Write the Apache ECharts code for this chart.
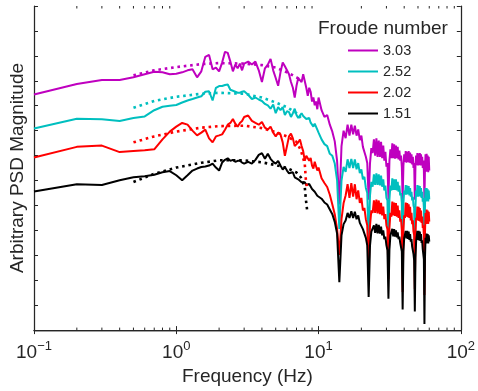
<!DOCTYPE html>
<html>
<head>
<meta charset="utf-8">
<script src="https://cdn.jsdelivr.net/npm/echarts@6/dist/echarts.min.js"></script>
<style>html,body{margin:0;padding:0;background:#fff}#c{width:478px;height:391px}</style>
</head>
<body>
<div id="c"></div>
<script>
// ---------------- data ----------------
const froudeNumbers = ['3.03', '2.52', '2.02', '1.51'];
const seriesColors = ['#bf00bf', '#00bfbf', '#ff0000', '#000000'];

const freqLow = [0.1,0.2,0.3,0.4,0.5,0.6,0.7,0.8,0.9,1.0,
  1.1,1.2,1.3,1.4,1.5,1.6,1.7,1.8,1.9,2.0,
  2.1,2.2,2.3,2.4,2.5,2.6,2.7,2.8,2.9,3.0];
const freqMid = [3.2,3.4,3.6,3.8,4.0,4.2,4.4,4.6,4.8,5.0,
  5.2,5.4,5.6,5.8,6.0,6.2,6.4,6.6,6.8,7.0,
  7.2,7.4,7.6,7.8,8.0,8.2,8.4,8.6,8.8,9.0,
  9.2,9.4,9.6,9.8,10.0];
const freqHigh = [10.5,11,11.5,12,12.5,13,13.5,14,14.5,15,
  15.5,16,16.5,17,17.5,18,18.5,19,19.5,20,
  20.5,21,21.5,22,22.5,23,23.5,24,24.5,25,
  25.5,26,26.5,27,27.5,28,28.5,29,29.5,30,
  30.5,31,31.5,32,32.5,33,33.5,34,34.5,35,
  35.5,36,36.5,37,37.5,38,38.5,39,39.5,40,
  40.5,41,41.5,42,42.5,43,43.5,44,44.5,45,
  45.5,46,46.5,47,47.5,48,48.5,49,49.5,50,
  50.5,51,51.5,52,52.5,53,53.5,54,54.5,55,
  55.5,56,56.5,57,57.5,58,58.5,59,59.5,60];

const psd303 = [
  9.45,9.87,10.03,10.03,10.14,10.26,10.36,10.34,10.26,10.28,
  10.34,10.42,10.46,10.14,10.38,10.96,11.04,10.46,10.53,10.38,
  10.73,11.16,11.12,10.77,10.38,10.65,10.50,10.69,10.42,10.69,
  10.77,10.65,10.77,10.42,9.95,10.50,10.65,10.88,10.42,10.11,
  9.80,10.34,10.73,10.58,10.42,10.26,9.95,9.72,9.33,9.80,
  10.11,10.18,9.95,10.26,10.30,9.72,9.40,9.72,9.56,9.17,
  9.33,9.02,9.17,8.86,9.33,
  8.82,8.55,8.63,8.24,7.96,7.57,6.79,5.04,7.38,8.00,
  7.70,8.24,7.80,8.24,7.85,8.20,7.80,8.05,7.62,7.80,
  7.35,7.40,6.95,6.70,5.23,6.70,7.30,7.10,7.65,7.00,
  7.69,6.95,7.60,6.95,7.55,6.90,7.40,6.80,7.15,6.55,
  6.70,5.23,6.80,7.25,6.90,7.49,6.90,7.45,6.88,7.40,
  6.90,7.35,6.85,7.20,6.80,7.00,6.55,5.23,6.60,7.05,
  6.75,7.18,6.72,7.15,6.75,7.18,6.72,7.12,6.70,7.05,
  6.65,6.95,6.50,6.70,5.23,6.60,7.00,6.62,7.10,6.60,
  7.08,6.62,7.10,6.60,7.05,6.60,6.95,6.50,6.80,6.40,
  5.23,6.50,7.05,6.35,7.07,6.40,7.00,6.33,6.95,6.40];

const psd252 = [
  8.09,8.48,8.46,8.39,8.51,8.57,8.82,8.96,9.00,9.03,
  9.13,9.21,9.27,9.33,9.38,9.56,9.58,9.21,9.72,9.79,
  9.79,9.83,9.85,9.64,9.60,9.56,9.52,9.52,9.56,9.58,
  9.44,9.27,9.33,9.25,9.19,9.07,9.01,8.88,9.05,8.70,
  8.94,8.82,8.94,8.63,8.78,8.74,8.55,8.70,8.88,8.63,
  8.51,8.49,8.70,8.59,8.67,8.47,8.39,8.51,8.32,8.39,
  8.16,8.28,8.28,8.04,7.92,
  7.65,7.46,7.38,7.07,6.99,6.68,6.01,4.06,6.00,6.55,
  6.35,6.85,6.50,6.87,6.50,6.85,6.45,6.70,6.30,6.45,
  6.05,6.15,5.70,5.50,3.48,5.40,5.95,5.75,6.25,5.82,
  6.29,5.82,6.25,5.80,6.20,5.75,6.05,5.60,5.80,5.30,
  5.20,2.97,5.25,5.80,5.60,6.09,5.62,6.05,5.62,6.05,
  5.60,5.95,5.55,5.80,5.40,5.50,5.10,2.39,5.10,5.60,
  5.43,5.82,5.43,5.80,5.45,5.78,5.40,5.70,5.35,5.55,
  5.20,5.35,5.00,4.90,2.70,4.95,5.60,5.35,5.82,5.35,
  5.80,5.38,5.78,5.35,5.70,5.30,5.55,5.15,5.30,4.90,
  2.39,5.00,5.70,5.16,5.70,5.20,5.65,5.16,5.60,5.25];

const psd202 = [
  6.92,7.35,7.40,7.14,7.18,7.21,7.25,7.65,7.96,8.16,
  8.31,8.24,8.00,7.81,7.92,8.04,7.69,7.53,7.77,7.81,
  7.85,8.04,8.24,8.31,8.47,8.28,8.16,8.31,8.39,8.55,
  8.61,8.39,8.31,8.24,8.35,8.12,8.04,8.16,7.92,7.77,
  7.92,7.85,7.53,6.99,7.38,7.77,7.88,7.69,7.38,7.30,
  7.53,7.65,7.38,7.18,6.79,6.99,7.06,6.79,6.91,6.60,
  6.48,6.75,6.79,6.40,6.52,
  6.09,5.90,5.74,5.43,5.04,4.65,4.06,3.01,4.45,5.10,
  5.40,5.85,5.30,5.90,5.35,5.85,5.25,5.60,5.10,5.30,
  4.80,4.90,4.45,4.20,2.31,4.20,4.80,4.70,5.20,4.70,
  5.23,4.68,5.20,4.65,5.10,4.60,4.95,4.45,4.65,4.20,
  4.05,2.04,4.10,4.70,4.55,5.16,4.60,5.12,4.58,5.10,
  4.55,5.00,4.50,4.80,4.35,4.45,4.00,1.53,4.00,4.60,
  4.50,5.12,4.55,5.10,4.53,5.05,4.50,4.95,4.40,4.70,
  4.25,4.40,3.95,3.80,1.65,3.85,4.50,4.40,4.96,4.40,
  4.95,4.38,4.90,4.35,4.80,4.30,4.55,4.10,4.20,3.80,
  1.41,3.90,4.70,4.26,4.84,4.28,4.80,4.26,4.75,4.35];

const psd151 = [
  5.56,5.85,5.82,6.01,6.13,6.17,6.23,6.33,6.38,6.21,
  6.01,6.21,6.40,6.48,6.54,6.56,6.60,6.68,6.52,6.40,
  6.72,6.83,6.89,6.79,6.83,6.75,6.79,6.79,6.72,6.68,
  6.75,6.68,6.83,7.03,7.10,6.87,7.07,6.87,6.75,6.68,
  6.79,6.60,6.44,6.54,6.40,6.29,6.33,6.33,6.13,6.21,
  6.05,5.97,5.93,6.01,5.93,5.82,5.76,5.86,5.82,5.66,
  5.70,5.55,5.58,5.39,5.43,
  5.27,5.12,5.04,4.84,4.65,4.34,3.87,1.92,3.80,4.25,
  4.40,4.70,4.50,4.77,4.50,4.75,4.45,4.60,4.30,4.35,
  4.05,4.00,3.70,3.40,1.33,3.40,3.95,3.90,4.20,3.90,
  4.26,3.88,4.22,3.87,4.15,3.80,4.00,3.65,3.75,3.40,
  3.20,1.26,3.25,3.80,3.75,4.06,3.76,4.05,3.75,4.00,
  3.72,3.92,3.65,3.75,3.50,3.45,3.15,0.83,3.15,3.70,
  3.67,3.98,3.68,3.98,3.66,3.95,3.62,3.85,3.55,3.65,
  3.35,3.30,3.05,2.80,0.75,2.90,3.55,3.60,3.98,3.62,
  3.98,3.60,3.95,3.58,3.85,3.50,3.60,3.25,3.20,2.85,
  0.25,2.90,3.70,3.48,3.87,3.50,3.85,3.48,3.80,3.55];

// model fits (dotted)
const fitFreq = [0.5,0.7,1.0,1.5,2,3,4,5,6,7,7.5,8.0,8.15,8.3];
const fit303 = [10.22,10.42,10.55,10.67,10.71,10.69,10.63,10.53,10.34,10.14,10.03,null,null,null];
const fit252 = [8.92,9.19,9.36,9.48,9.52,9.48,9.33,9.13,8.94,8.70,8.51,null,null,null];
const fit202 = [7.53,7.77,7.96,8.12,8.18,8.20,8.10,7.94,7.77,7.55,7.22,6.68,6.01,5.70];
const fit151 = [5.94,6.27,6.52,6.71,6.81,6.81,6.73,6.62,6.50,6.32,6.13,5.74,5.23,4.84];

// axes
const xMin = 0.1, xMax = 100;
const xTickExponents = [-1, 0, 1, 2];
const xMinorTicks = [0.2,0.3,0.4,0.5,0.6,0.7,0.8,0.9,2,3,4,5,6,7,8,9,20,30,40,50,60,70,80,90];
const yMin = 0, yMax = 13, yInterval = 1;

// ---------------- chart ----------------
const freq = freqLow.concat(freqMid, freqHigh);
const solid = [psd303, psd252, psd202, psd151];
const fits = [fit303, fit252, fit202, fit151];
const FONT = 'Liberation Sans, Arial, sans-serif';
const INK = '#262626';

const series = [];
solid.forEach((vals, k) => {
  series.push({
    name: froudeNumbers[k], type: 'line', symbol: 'none', showSymbol: false,
    data: freq.map((f, i) => [f, vals[i]]),
    lineStyle: {color: seriesColors[k], width: 2}, itemStyle: {color: seriesColors[k]},
    z: 2 + k * 0.1
  });
});
fits.forEach((vals, k) => {
  series.push({
    name: 'fit ' + froudeNumbers[k], type: 'line', symbol: 'none', showSymbol: false,
    connectNulls: false,
    data: fitFreq.map((f, i) => [f, vals[i]]),
    lineStyle: {color: seriesColors[k], width: 2.6, type: [2.6, 3.8], cap: 'butt'},
    itemStyle: {color: seriesColors[k]}, z: 3
  });
});
series.push({
  type: 'custom', silent: true, clip: false, z: 5,
  data: xMinorTicks.map(f => [f, yMin]),
  renderItem: function (params, api) {
    const f = api.value(0);
    const b = api.coord([f, yMin]);
    const t = api.coord([f, yMax]);
    const st = {stroke: INK, lineWidth: 1};
    return {type: 'group', children: [
      {type: 'line', shape: {x1: b[0], y1: b[1], x2: b[0], y2: b[1] - 2.5}, style: st},
      {type: 'line', shape: {x1: t[0], y1: t[1], x2: t[0], y2: t[1] + 2.5}, style: st}
    ]};
  }
});

function supLabel(v) {
  const e = Math.round(Math.log10(v));
  if (xTickExponents.indexOf(e) < 0) return '';
  return '{b|10}{s|' + (e < 0 ? '\u2212' + (-e) : String(e)) + '}';
}

const axisLine = {show: true, lineStyle: {color: INK, width: 1.25}};
const axisTick = {show: true, inside: true, length: 4, lineStyle: {color: INK, width: 1}};

const option = {
  animation: false,
  backgroundColor: '#ffffff',
  textStyle: {fontFamily: FONT},
  grid: {left: 32, top: 6, width: 430, height: 333.3},
  title: {text: 'Froude number', left: 313, top: 14,
    textStyle: {fontSize: 19, fontWeight: 'normal', color: INK, fontFamily: FONT}},
  legend: {
    data: froudeNumbers.map(n => ({name: n, icon: 'rect'})),
    orient: 'vertical', left: 343, top: 38,
    itemWidth: 30, itemHeight: 2, itemGap: 6, itemTextGap: 11,
    textStyle: {fontSize: 14.5, color: INK, fontFamily: FONT, lineHeight: 14}
  },
  xAxis: [{
    type: 'log', logBase: 10, min: xMin, max: xMax, position: 'bottom',
    axisLine: axisLine, axisTick: axisTick, splitLine: {show: false},
    axisLabel: {margin: 10, formatter: supLabel, rich: {
      b: {fontSize: 19, color: INK, fontFamily: FONT, lineHeight: 22, verticalAlign: 'bottom'},
      s: {fontSize: 13, color: INK, fontFamily: FONT, verticalAlign: 'top', lineHeight: 14}
    }},
    name: 'Frequency (Hz)', nameLocation: 'middle', nameGap: 27,
    nameTextStyle: {fontSize: 19, color: INK, fontFamily: FONT}
  }, {
    type: 'log', logBase: 10, min: xMin, max: xMax, position: 'top',
    axisLine: axisLine, axisTick: axisTick, splitLine: {show: false}, axisLabel: {show: false}
  }],
  yAxis: [{
    type: 'value', min: yMin, max: yMax, interval: yInterval, position: 'left',
    axisLine: axisLine, axisTick: axisTick, splitLine: {show: false}, axisLabel: {show: false},
    name: 'Arbitrary PSD Magnitude', nameLocation: 'middle', nameGap: 7,
    nameTextStyle: {fontSize: 19, color: INK, fontFamily: FONT}
  }, {
    type: 'value', min: yMin, max: yMax, interval: yInterval, position: 'right',
    axisLine: axisLine, axisTick: axisTick, splitLine: {show: false}, axisLabel: {show: false}
  }],
  series: series
};

const chart = echarts.init(document.getElementById('c'), null, {renderer: 'canvas'});
chart.setOption(option);
</script>
</body>
</html>
